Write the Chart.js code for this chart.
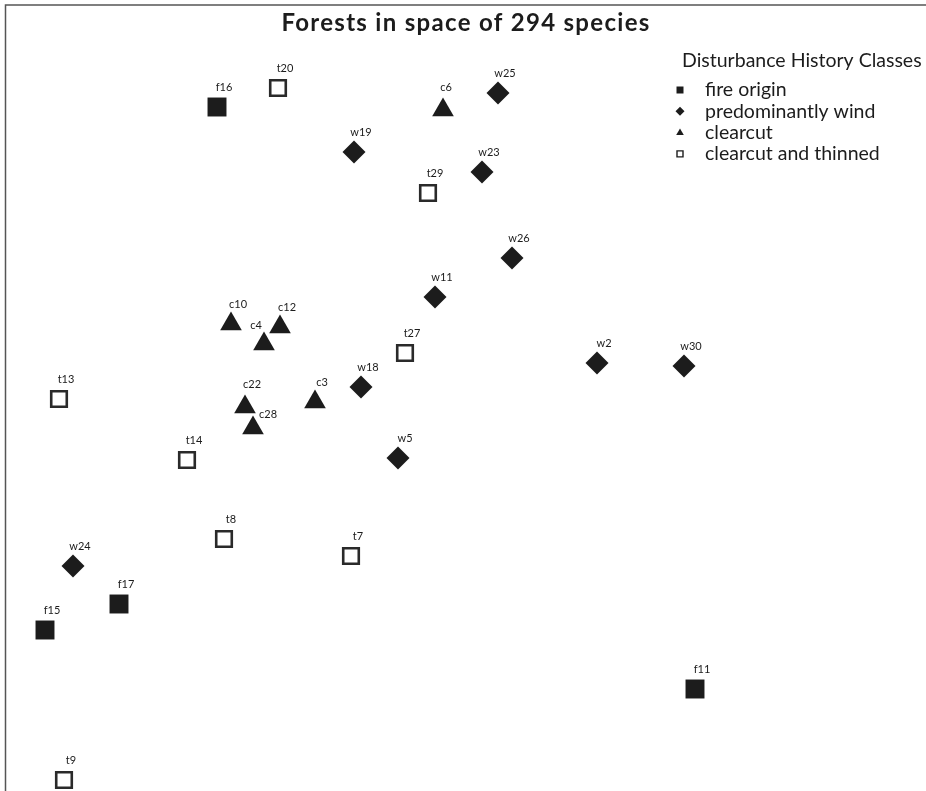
<!DOCTYPE html>
<html>
<head>
<meta charset="utf-8">
<script src="https://cdn.jsdelivr.net/npm/chart.js@4/dist/chart.umd.min.js"></script>
<style>
  body { margin: 0; background: #fff; }
  canvas { display: block; }
</style>
</head>
<body>
<canvas id="forestChart" width="926" height="791"></canvas>
<script>
// Ordination scores (axis 1, axis 2)
const fireLabels = ["f16", "f17", "f15", "f11"];
const fireX = [2.17, 1.19, 0.45, 6.95];
const fireY = [6.84, 1.87, 1.61, 1.02];

const windLabels = ["w25", "w19", "w23", "w26", "w11", "w2", "w30", "w18", "w5", "w24"];
const windX = [4.98, 3.54, 4.82, 5.12, 4.35, 5.97, 6.84, 3.61, 3.98, 0.73];
const windY = [6.98, 6.39, 6.19, 5.33, 4.94, 4.28, 4.25, 4.04, 3.33, 2.25];

const cutLabels = ["c6", "c10", "c12", "c4", "c3", "c22", "c28"];
const cutX = [4.43, 2.31, 2.80, 2.64, 3.15, 2.45, 2.53];
const cutY = [6.81, 4.67, 4.64, 4.47, 3.89, 3.84, 3.63];

const thinLabels = ["t20", "t29", "t27", "t13", "t14", "t8", "t7", "t9"];
const thinX = [2.78, 4.28, 4.05, 0.59, 1.87, 2.24, 3.51, 0.64];
const thinY = [7.03, 5.98, 4.38, 3.92, 3.31, 2.52, 2.35, 0.11];

const classNames = ["fire origin", "predominantly wind", "clearcut", "clearcut and thinned"];

const FONT = "Lato, 'DejaVu Sans', sans-serif";
const INK = "#1c1c1c";

function toPoints(xs, ys) {
  return xs.map((x, i) => ({ x: x, y: ys[i] }));
}

// a few labels sit away from the usual spot above-right of the marker
const labelShift = { c4: [-8, -19], c28: [15, -14], c6: [3, -23], c22: [7, -23] };

const pointLabels = {
  id: "pointLabels",
  afterDatasetsDraw(chart) {
    const ctx = chart.ctx;
    ctx.save();
    ctx.fillStyle = INK;
    ctx.font = "11px " + FONT;
    ctx.textAlign = "center";
    ctx.textBaseline = "middle";
    chart.data.datasets.forEach((ds, di) => {
      chart.getDatasetMeta(di).data.forEach((el, i) => {
        const name = ds.names[i];
        const s = labelShift[name] || [7, -20];
        ctx.fillText(name, el.x + s[0], el.y + s[1]);
      });
    });
    ctx.restore();
  }
};

const decorations = {
  id: "decorations",
  afterDraw(chart) {
    const ctx = chart.ctx;
    ctx.save();
    // frame
    ctx.strokeStyle = "#555";
    ctx.lineWidth = 1.5;
    ctx.beginPath();
    ctx.moveTo(926, 5);
    ctx.lineTo(5.5, 5);
    ctx.lineTo(5.5, 791);
    ctx.stroke();

    // title
    ctx.fillStyle = INK;
    ctx.font = "bold 24px " + FONT;
    ctx.letterSpacing = "1.3px";
    ctx.textAlign = "center";
    ctx.textBaseline = "middle";
    ctx.fillText("Forests in space of 294 species", 466, 23);
    ctx.letterSpacing = "0px";

    // legend
    ctx.font = "19.5px " + FONT;
    ctx.textAlign = "left";
    ctx.fillText("Disturbance History Classes", 682, 61);
    const lx = 680;
    classNames.forEach((name, i) => {
      const y = 90 + i * 21.3;
      ctx.fillStyle = INK;
      ctx.strokeStyle = INK;
      ctx.beginPath();
      if (i === 0) {
        ctx.rect(lx - 3.5, y - 3.5, 7, 7);
        ctx.fill();
      } else if (i === 1) {
        ctx.moveTo(lx, y - 4.5); ctx.lineTo(lx + 4.5, y);
        ctx.lineTo(lx, y + 4.5); ctx.lineTo(lx - 4.5, y);
        ctx.closePath(); ctx.fill();
      } else if (i === 2) {
        ctx.moveTo(lx, y - 4); ctx.lineTo(lx + 3.8, y + 2.5);
        ctx.lineTo(lx - 3.8, y + 2.5); ctx.closePath(); ctx.fill();
      } else {
        ctx.lineWidth = 1.4;
        ctx.rect(lx - 3, y - 3, 6, 6);
        ctx.stroke();
      }
      ctx.fillText(name, 705, y);
    });
    ctx.restore();
  }
};

new Chart(document.getElementById("forestChart"), {
  type: "scatter",
  data: {
    datasets: [
      {
        label: classNames[0], names: fireLabels, data: toPoints(fireX, fireY),
        pointStyle: "rect", pointRadius: 13.4, backgroundColor: INK, borderColor: INK, borderWidth: 0
      },
      {
        label: classNames[1], names: windLabels, data: toPoints(windX, windY),
        pointStyle: "rectRot", pointRadius: 11.5, backgroundColor: INK, borderColor: INK, borderWidth: 0
      },
      {
        label: classNames[2], names: cutLabels, data: toPoints(cutX, cutY),
        pointStyle: "triangle", pointRadius: 12.5, backgroundColor: INK, borderColor: INK, borderWidth: 0
      },
      {
        label: classNames[3], names: thinLabels, data: toPoints(thinX, thinY),
        pointStyle: "rect", pointRadius: 11, backgroundColor: "#fff", borderColor: "#2a2a2a", borderWidth: 2.6
      }
    ]
  },
  options: {
    responsive: false,
    animation: false,
    clip: false,
    layout: { padding: 0, autoPadding: false },
    plugins: { legend: { display: false }, title: { display: false }, tooltip: { enabled: false } },
    elements: { point: { hoverRadius: 12 } },
    scales: {
      x: { type: "linear", min: 0, max: 9.26, display: false },
      y: { type: "linear", min: 0, max: 7.91, display: false }
    }
  },
  plugins: [pointLabels, decorations]
});
</script>
</body>
</html>
